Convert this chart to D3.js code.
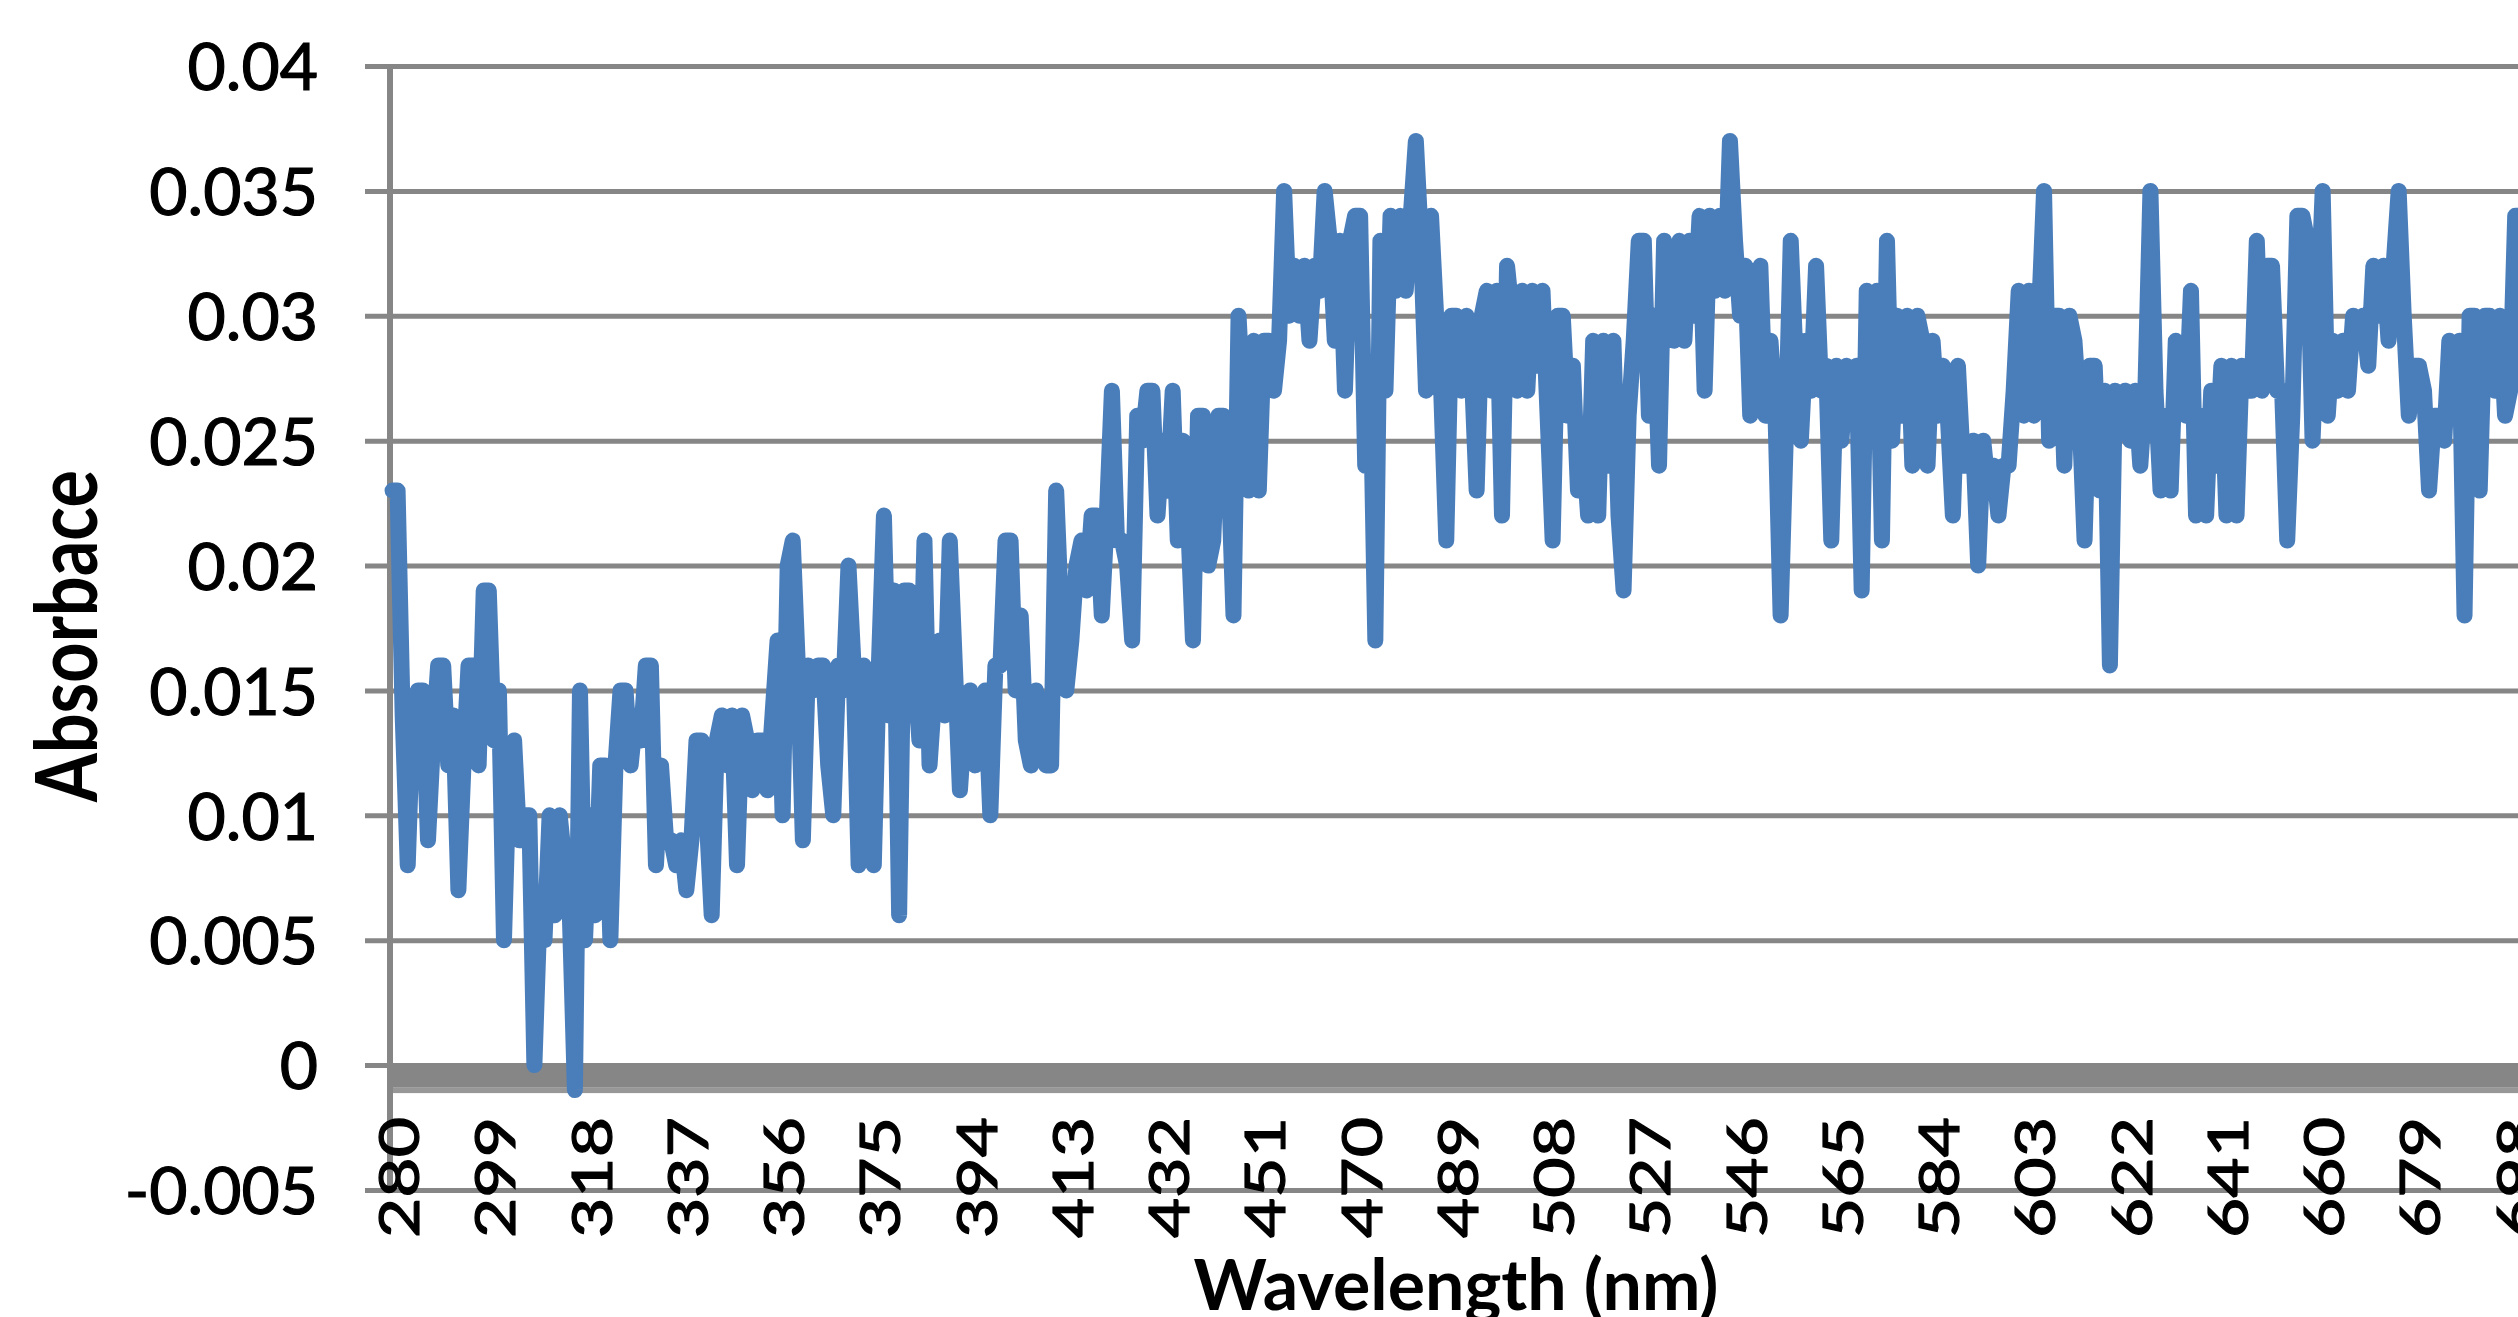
<!DOCTYPE html>
<html><head><meta charset="utf-8">
<script src="https://cdn.jsdelivr.net/npm/d3@7"></script>
<style>html,body{margin:0;padding:0;background:#fff;overflow:hidden}</style>
</head><body>
<svg id="chart" width="2518" height="1317"></svg>
<script>
// ---- data ----
const wavelengths = d3.range(280, 701); // nm, 1 nm steps (category axis)
const absorbance = [
0.023,0.023,0.014,0.008,0.014,0.015,0.015,0.009,0.013,0.016,0.016,0.012,0.014,0.007,0.012,0.016,0.016,0.012,0.019,0.019,
0.013,0.015,0.005,0.012,0.013,0.009,0.010,0.010,0.000,0.006,0.005,0.010,0.006,0.010,0.008,0.006,-0.001,0.015,0.005,0.010,
0.006,0.012,0.012,0.005,0.012,0.015,0.015,0.012,0.014,0.013,0.016,0.016,0.008,0.012,0.009,0.009,0.008,0.009,0.007,0.009,
0.013,0.013,0.010,0.006,0.013,0.014,0.012,0.014,0.008,0.014,0.013,0.011,0.013,0.013,0.011,0.014,0.017,0.010,0.020,0.021,
0.016,0.009,0.016,0.015,0.016,0.016,0.012,0.010,0.016,0.015,0.020,0.016,0.008,0.016,0.012,0.008,0.016,0.022,0.014,0.019,
0.006,0.019,0.019,0.016,0.013,0.021,0.012,0.015,0.017,0.014,0.021,0.016,0.011,0.014,0.015,0.012,0.014,0.015,0.010,0.016,
0.016,0.021,0.021,0.015,0.018,0.013,0.012,0.015,0.014,0.012,0.012,0.023,0.018,0.015,0.017,0.020,0.021,0.019,0.022,0.022,
0.018,0.022,0.027,0.021,0.021,0.020,0.017,0.026,0.025,0.027,0.027,0.022,0.025,0.023,0.027,0.021,0.025,0.022,0.017,0.026,
0.026,0.020,0.021,0.026,0.026,0.024,0.018,0.030,0.026,0.023,0.029,0.023,0.029,0.029,0.027,0.029,0.035,0.030,0.032,0.030,
0.032,0.029,0.032,0.031,0.035,0.033,0.029,0.033,0.027,0.033,0.034,0.034,0.024,0.028,0.017,0.033,0.027,0.034,0.031,0.034,
0.031,0.034,0.037,0.033,0.027,0.034,0.030,0.027,0.021,0.030,0.030,0.027,0.030,0.028,0.023,0.030,0.031,0.027,0.031,0.022,
0.032,0.030,0.027,0.031,0.027,0.031,0.028,0.031,0.026,0.021,0.030,0.030,0.026,0.028,0.023,0.025,0.022,0.029,0.022,0.029,
0.024,0.029,0.022,0.019,0.026,0.029,0.033,0.033,0.026,0.030,0.024,0.033,0.032,0.029,0.033,0.029,0.033,0.030,0.034,0.027,
0.034,0.031,0.034,0.031,0.037,0.033,0.030,0.032,0.026,0.031,0.032,0.026,0.029,0.026,0.018,0.025,0.033,0.028,0.025,0.029,
0.027,0.032,0.027,0.028,0.021,0.028,0.025,0.028,0.026,0.028,0.019,0.031,0.026,0.031,0.021,0.033,0.025,0.030,0.026,0.030,
0.024,0.030,0.029,0.024,0.029,0.026,0.028,0.026,0.022,0.028,0.024,0.024,0.025,0.020,0.025,0.023,0.024,0.022,0.024,0.024,
0.027,0.031,0.026,0.031,0.026,0.030,0.035,0.025,0.030,0.030,0.024,0.030,0.029,0.026,0.021,0.028,0.028,0.023,0.027,0.016,
0.027,0.026,0.027,0.025,0.027,0.024,0.027,0.035,0.027,0.023,0.026,0.023,0.029,0.027,0.026,0.031,0.022,0.026,0.022,0.027,
0.024,0.028,0.022,0.028,0.022,0.028,0.027,0.027,0.033,0.027,0.032,0.032,0.027,0.027,0.021,0.026,0.034,0.034,0.033,0.025,
0.030,0.035,0.026,0.029,0.027,0.029,0.027,0.030,0.029,0.030,0.028,0.032,0.030,0.032,0.029,0.032,0.035,0.030,0.026,0.028,
0.028,0.027,0.023,0.026,0.026,0.025,0.029,0.027,0.029,0.018,0.030,0.030,0.023,0.030,0.030,0.027,0.030,0.026,0.027,0.034,0.034
];
const xTickLabels = [280,299,318,337,356,375,394,413,432,451,470,489,508,527,546,565,584,603,622,641,660,679,698];
const yTickValues = [-0.005,0,0.005,0.01,0.015,0.02,0.025,0.03,0.035,0.04];
const yTickLabels = ["-0.005","0","0.005","0.01","0.015","0.02","0.025","0.03","0.035","0.04"];
const xTitle = "Wavelength (nm)";
const yTitle = "Absorbace";

// ---- layout ----
const W = 2518, H = 1317;
const plotLeft = 390, catW = 5.066;
const gridColor = "#868686";
const lineColor = "#4a7ebb";
const font = "Lato, 'Open Sans', 'Liberation Sans', sans-serif";

const svg = d3.select("#chart");
svg.append("rect").attr("width", W).attr("height", H).attr("fill", "#fff");

const x = d3.scaleBand().domain(wavelengths)
  .range([plotLeft, plotLeft + wavelengths.length * catW]).padding(0);
const xc = d => x(d) + x.bandwidth() / 2;
const y = d3.scaleLinear().domain([-0.005, 0.04]).range([1190, 66]);

// gridlines + outward ticks
const grid = svg.append("g").attr("transform", `translate(${plotLeft},0)`)
  .call(d3.axisLeft(y).tickValues(yTickValues).tickSizeInner(-(W - plotLeft)).tickSizeOuter(0).tickFormat(""));
grid.select(".domain").remove();
grid.selectAll("line").attr("stroke", gridColor).attr("stroke-width", 5).attr("x1", -25);

// y tick labels
const yAxis = svg.append("g").attr("transform", `translate(${plotLeft},0)`)
  .call(d3.axisLeft(y).tickValues(yTickValues).tickSize(0).tickPadding(72)
    .tickFormat((d, i) => yTickLabels[i]));
yAxis.select(".domain").remove();
yAxis.selectAll("text").attr("font-family", font).attr("font-size", 66)
  .attr("fill", "#000").attr("stroke", "#000").attr("stroke-width", 1.2).attr("dy", "0.36em");

// thick zero axis band
svg.append("rect").attr("x", plotLeft).attr("y", y(0) - 1).attr("width", W - plotLeft).attr("height", 23).attr("fill", gridColor);
svg.append("rect").attr("x", plotLeft).attr("y", y(0) + 22).attr("width", W - plotLeft).attr("height", 6).attr("fill", "#979797");

// vertical axis line
svg.append("line").attr("x1", plotLeft).attr("x2", plotLeft)
  .attr("y1", y(0.04) - 2).attr("y2", y(-0.005) + 2)
  .attr("stroke", gridColor).attr("stroke-width", 6);

// x tick labels (rotated)
const xAxis = svg.append("g").attr("transform", `translate(0,1117)`)
  .call(d3.axisBottom(x).tickValues(xTickLabels).tickSize(0));
xAxis.select(".domain").remove();
xAxis.selectAll("text").attr("font-family", font).attr("font-size", 57).attr("fill", "#000")
  .attr("stroke", "#000").attr("stroke-width", 1.2)
  .attr("x", 0).attr("y", 0).attr("dy", "0.36em")
  .attr("text-anchor", "end")
  .attr("textLength", 121).attr("lengthAdjust", "spacingAndGlyphs")
  .attr("transform", "translate(6,0) rotate(-90)");

// data line
const series = wavelengths.map((w, i) => ({ w, v: absorbance[i] }));
svg.append("path").datum(series)
  .attr("fill", "none").attr("stroke", lineColor).attr("stroke-width", 16)
  .attr("stroke-linejoin", "round").attr("stroke-linecap", "round")
  .attr("d", d3.line().x(d => xc(d.w)).y(d => y(d.v)));

// axis titles
svg.append("text").attr("x", 1456).attr("y", 1310).attr("text-anchor", "middle")
  .attr("font-family", font).attr("font-weight", "bold").attr("font-size", 70)
  .attr("textLength", 525).attr("lengthAdjust", "spacingAndGlyphs").text(xTitle);
svg.append("text").attr("transform", "translate(97,636) rotate(-90)").attr("text-anchor", "middle")
  .attr("font-family", font).attr("font-weight", "bold").attr("font-size", 86)
  .attr("textLength", 332).attr("lengthAdjust", "spacingAndGlyphs").text(yTitle);
</script>
</body></html>
